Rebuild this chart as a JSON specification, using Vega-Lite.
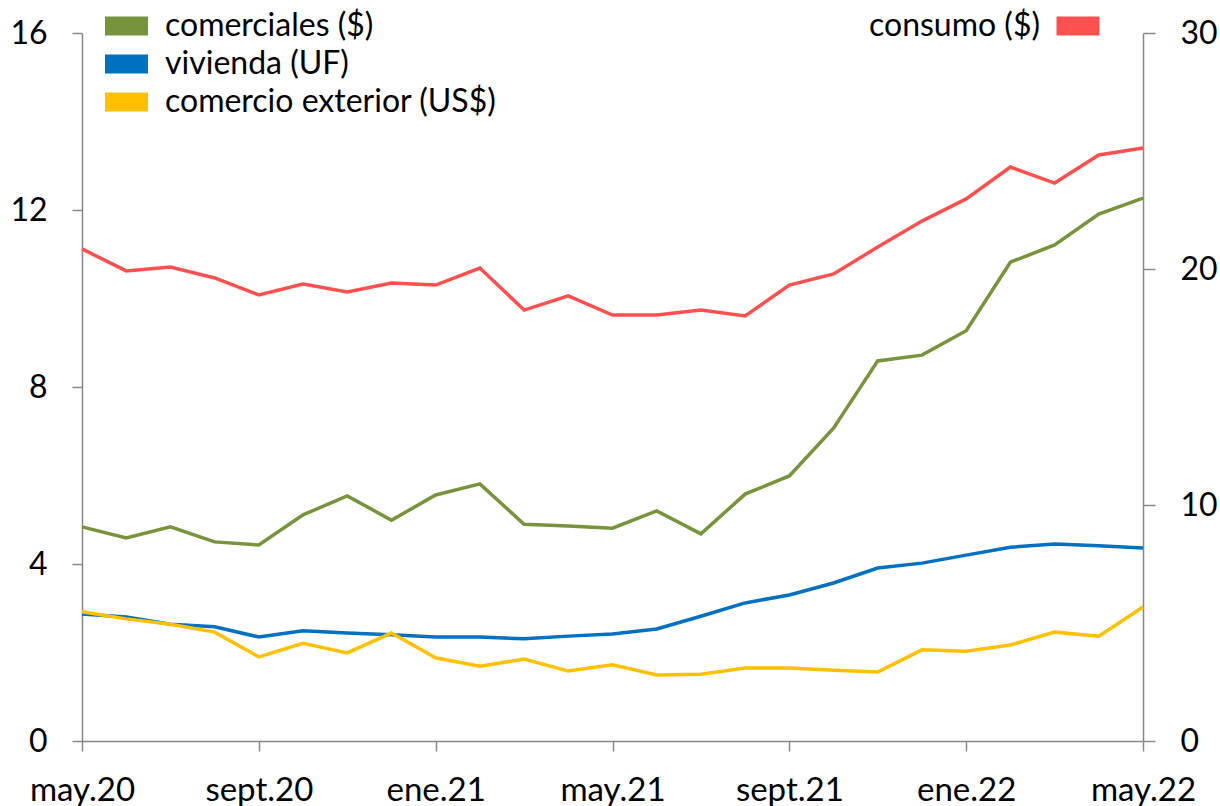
{
  "$schema": "https://vega.github.io/schema/vega-lite/v6.json",
  "autosize": {"type": "none"},
  "padding": {"left": 82, "top": 33, "right": 77, "bottom": 65},
  "width": 1061,
  "height": 708,
  "config": {
    "view": {"stroke": null},
    "font": "Lato",
    "axis": {"grid": false, "domainColor": "#888888", "domainWidth": 1.5, "tickColor": "#888888", "tickWidth": 1.5, "labelFont": "Lato", "labelFontSize": 32, "labelColor": "#000000", "title": null},
    "legend": {"labelFont": "Lato", "labelFontSize": 32, "labelColor": "#000000", "padding": 0, "labelLimit": 0}
  },
  "data": {"values": [
    {"mes":"may.20","serie":"comerciales ($)","valor":4.84},
    {"mes":"jun.20","serie":"comerciales ($)","valor":4.59},
    {"mes":"jul.20","serie":"comerciales ($)","valor":4.84},
    {"mes":"ago.20","serie":"comerciales ($)","valor":4.50},
    {"mes":"sept.20","serie":"comerciales ($)","valor":4.43},
    {"mes":"oct.20","serie":"comerciales ($)","valor":5.11},
    {"mes":"nov.20","serie":"comerciales ($)","valor":5.54},
    {"mes":"dic.20","serie":"comerciales ($)","valor":4.99},
    {"mes":"ene.21","serie":"comerciales ($)","valor":5.56},
    {"mes":"feb.21","serie":"comerciales ($)","valor":5.81},
    {"mes":"mar.21","serie":"comerciales ($)","valor":4.90},
    {"mes":"abr.21","serie":"comerciales ($)","valor":4.86},
    {"mes":"may.21","serie":"comerciales ($)","valor":4.81},
    {"mes":"jun.21","serie":"comerciales ($)","valor":5.20},
    {"mes":"jul.21","serie":"comerciales ($)","valor":4.68},
    {"mes":"ago.21","serie":"comerciales ($)","valor":5.58},
    {"mes":"sept.21","serie":"comerciales ($)","valor":5.99},
    {"mes":"oct.21","serie":"comerciales ($)","valor":7.07},
    {"mes":"nov.21","serie":"comerciales ($)","valor":8.59},
    {"mes":"dic.21","serie":"comerciales ($)","valor":8.72},
    {"mes":"ene.22","serie":"comerciales ($)","valor":9.27},
    {"mes":"feb.22","serie":"comerciales ($)","valor":10.82},
    {"mes":"mar.22","serie":"comerciales ($)","valor":11.21},
    {"mes":"abr.22","serie":"comerciales ($)","valor":11.91},
    {"mes":"may.22","serie":"comerciales ($)","valor":12.27},
    {"mes":"may.20","serie":"vivienda (UF)","valor":2.87},
    {"mes":"jun.20","serie":"vivienda (UF)","valor":2.80},
    {"mes":"jul.20","serie":"vivienda (UF)","valor":2.64},
    {"mes":"ago.20","serie":"vivienda (UF)","valor":2.58},
    {"mes":"sept.20","serie":"vivienda (UF)","valor":2.35},
    {"mes":"oct.20","serie":"vivienda (UF)","valor":2.49},
    {"mes":"nov.20","serie":"vivienda (UF)","valor":2.44},
    {"mes":"dic.20","serie":"vivienda (UF)","valor":2.40},
    {"mes":"ene.21","serie":"vivienda (UF)","valor":2.35},
    {"mes":"feb.21","serie":"vivienda (UF)","valor":2.35},
    {"mes":"mar.21","serie":"vivienda (UF)","valor":2.31},
    {"mes":"abr.21","serie":"vivienda (UF)","valor":2.37},
    {"mes":"may.21","serie":"vivienda (UF)","valor":2.42},
    {"mes":"jun.21","serie":"vivienda (UF)","valor":2.53},
    {"mes":"jul.21","serie":"vivienda (UF)","valor":2.82},
    {"mes":"ago.21","serie":"vivienda (UF)","valor":3.12},
    {"mes":"sept.21","serie":"vivienda (UF)","valor":3.30},
    {"mes":"oct.21","serie":"vivienda (UF)","valor":3.57},
    {"mes":"nov.21","serie":"vivienda (UF)","valor":3.91},
    {"mes":"dic.21","serie":"vivienda (UF)","valor":4.02},
    {"mes":"ene.22","serie":"vivienda (UF)","valor":4.20},
    {"mes":"feb.22","serie":"vivienda (UF)","valor":4.38},
    {"mes":"mar.22","serie":"vivienda (UF)","valor":4.45},
    {"mes":"abr.22","serie":"vivienda (UF)","valor":4.41},
    {"mes":"may.22","serie":"vivienda (UF)","valor":4.36},
    {"mes":"may.20","serie":"comercio exterior (US$)","valor":2.92},
    {"mes":"jun.20","serie":"comercio exterior (US$)","valor":2.76},
    {"mes":"jul.20","serie":"comercio exterior (US$)","valor":2.64},
    {"mes":"ago.20","serie":"comercio exterior (US$)","valor":2.46},
    {"mes":"sept.20","serie":"comercio exterior (US$)","valor":1.90},
    {"mes":"oct.20","serie":"comercio exterior (US$)","valor":2.21},
    {"mes":"nov.20","serie":"comercio exterior (US$)","valor":1.99},
    {"mes":"dic.20","serie":"comercio exterior (US$)","valor":2.44},
    {"mes":"ene.21","serie":"comercio exterior (US$)","valor":1.88},
    {"mes":"feb.21","serie":"comercio exterior (US$)","valor":1.69},
    {"mes":"mar.21","serie":"comercio exterior (US$)","valor":1.85},
    {"mes":"abr.21","serie":"comercio exterior (US$)","valor":1.58},
    {"mes":"may.21","serie":"comercio exterior (US$)","valor":1.72},
    {"mes":"jun.21","serie":"comercio exterior (US$)","valor":1.49},
    {"mes":"jul.21","serie":"comercio exterior (US$)","valor":1.51},
    {"mes":"ago.21","serie":"comercio exterior (US$)","valor":1.65},
    {"mes":"sept.21","serie":"comercio exterior (US$)","valor":1.65},
    {"mes":"oct.21","serie":"comercio exterior (US$)","valor":1.60},
    {"mes":"nov.21","serie":"comercio exterior (US$)","valor":1.56},
    {"mes":"dic.21","serie":"comercio exterior (US$)","valor":2.06},
    {"mes":"ene.22","serie":"comercio exterior (US$)","valor":2.03},
    {"mes":"feb.22","serie":"comercio exterior (US$)","valor":2.17},
    {"mes":"mar.22","serie":"comercio exterior (US$)","valor":2.46},
    {"mes":"abr.22","serie":"comercio exterior (US$)","valor":2.37},
    {"mes":"may.22","serie":"comercio exterior (US$)","valor":3.03},
    {"mes":"may.20","serie":"consumo ($)","valor":20.85},
    {"mes":"jun.20","serie":"consumo ($)","valor":19.92},
    {"mes":"jul.20","serie":"consumo ($)","valor":20.08},
    {"mes":"ago.20","serie":"consumo ($)","valor":19.62},
    {"mes":"sept.20","serie":"consumo ($)","valor":18.90},
    {"mes":"oct.20","serie":"consumo ($)","valor":19.36},
    {"mes":"nov.20","serie":"consumo ($)","valor":19.03},
    {"mes":"dic.20","serie":"consumo ($)","valor":19.41},
    {"mes":"ene.21","serie":"consumo ($)","valor":19.32},
    {"mes":"feb.21","serie":"consumo ($)","valor":20.04},
    {"mes":"mar.21","serie":"consumo ($)","valor":18.26},
    {"mes":"abr.21","serie":"consumo ($)","valor":18.86},
    {"mes":"may.21","serie":"consumo ($)","valor":18.05},
    {"mes":"jun.21","serie":"consumo ($)","valor":18.05},
    {"mes":"jul.21","serie":"consumo ($)","valor":18.26},
    {"mes":"ago.21","serie":"consumo ($)","valor":18.01},
    {"mes":"sept.21","serie":"consumo ($)","valor":19.32},
    {"mes":"oct.21","serie":"consumo ($)","valor":19.79},
    {"mes":"nov.21","serie":"consumo ($)","valor":20.93},
    {"mes":"dic.21","serie":"consumo ($)","valor":22.03},
    {"mes":"ene.22","serie":"consumo ($)","valor":22.97},
    {"mes":"feb.22","serie":"consumo ($)","valor":24.32},
    {"mes":"mar.22","serie":"consumo ($)","valor":23.64},
    {"mes":"abr.22","serie":"consumo ($)","valor":24.83},
    {"mes":"may.22","serie":"consumo ($)","valor":25.13}
  ]},
  "encoding": {
    "x": {
      "field": "mes", "type": "ordinal",
      "scale": {"type": "point", "padding": 0, "domain": ["may.20","jun.20","jul.20","ago.20","sept.20","oct.20","nov.20","dic.20","ene.21","feb.21","mar.21","abr.21","may.21","jun.21","jul.21","ago.21","sept.21","oct.21","nov.21","dic.21","ene.22","feb.22","mar.22","abr.22","may.22"]},
      "axis": {"values": ["may.20","sept.20","ene.21","may.21","sept.21","ene.22","may.22"], "labelAngle": 0, "tickSize": 10, "labelPadding": 23, "labelFontSize": 33, "labelFlush": false, "labelOverlap": false}
    }
  },
  "layer": [
    {
      "transform": [{"filter": "datum.serie != 'consumo ($)'"}],
      "mark": {"type": "line", "strokeWidth": 3.5},
      "encoding": {
        "y": {"field": "valor", "type": "quantitative", "scale": {"domain": [0, 16], "nice": false}, "axis": {"orient": "left", "values": [0, 4, 8, 12, 16], "tickSize": 10, "labelPadding": 25}},
        "color": {
          "field": "serie", "type": "nominal",
          "scale": {"domain": ["comerciales ($)", "vivienda (UF)", "comercio exterior (US$)"], "range": ["#77933C", "#0070C0", "#FFC000"]},
          "legend": {
            "title": null, "orient": "none", "legendX": 23, "legendY": -28.5,
            "symbolType": "M-1,-0.442H1V0.442H-1Z", "symbolSize": 1849, "symbolStrokeWidth": 0,
            "labelOffset": 17, "rowPadding": -3,
            "encode": {"symbols": {"update": {"fill": {"signal": "datum.value == 'comerciales ($)' ? '#77933C' : datum.value == 'vivienda (UF)' ? '#0070C0' : '#FFC000'"}, "fillOpacity": {"value": 1}, "strokeWidth": {"value": 0}}}}
          }
        }
      }
    },
    {
      "transform": [{"filter": "datum.serie == 'consumo ($)'"}],
      "mark": {"type": "line", "strokeWidth": 3.5},
      "encoding": {
        "y": {"field": "valor", "type": "quantitative", "scale": {"domain": [0, 30], "nice": false}, "axis": {"orient": "right", "values": [0, 10, 20, 30], "tickSize": 12, "labelPadding": 25}},
        "color": {
          "field": "serie", "type": "nominal",
          "scale": {"domain": ["consumo ($)"], "range": ["#FF5050"]},
          "legend": {
            "title": null, "orient": "none", "legendX": 974.5, "legendY": -28.5,
            "symbolType": "M-1,-0.442H1V0.442H-1Z", "symbolSize": 1849, "symbolStrokeWidth": 0,
            "labelAlign": "right", "labelOffset": -59.5,
            "encode": {"symbols": {"update": {"fill": {"value": "#FF5050"}, "fillOpacity": {"value": 1}, "strokeWidth": {"value": 0}}}}
          }
        }
      }
    }
  ],
  "resolve": {"scale": {"y": "independent", "color": "independent"}, "axis": {"y": "independent"}, "legend": {"color": "independent"}}
}
